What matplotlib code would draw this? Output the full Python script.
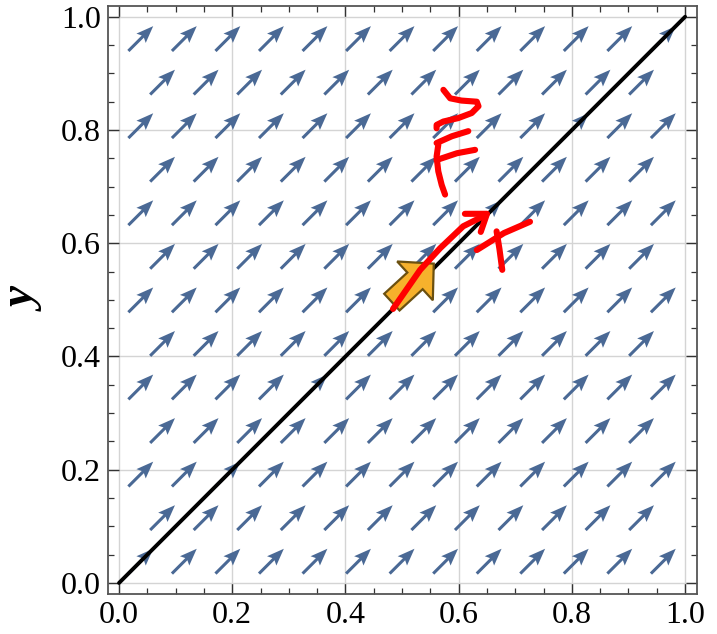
import numpy as np
import matplotlib.pyplot as plt
from matplotlib.patches import FancyArrow
from matplotlib.ticker import MultipleLocator

# vector field sample points: 13 rows, odd rows shifted by half a step
row_y = [1/26, 3/26, 5/26, 7/26, 9/26, 11/26, 13/26, 15/26, 17/26, 19/26, 21/26, 23/26, 25/26]
even_row_x = [1/26, 3/26, 5/26, 7/26, 9/26, 11/26, 13/26, 15/26, 17/26, 19/26, 21/26, 23/26, 25/26]
odd_row_x = [2/26, 4/26, 6/26, 8/26, 10/26, 12/26, 14/26, 16/26, 18/26, 20/26, 22/26, 24/26]
field_u = 1.0
field_v = 1.0

# diagonal line y = x
line_x = [0.0, 1.0]
line_y = [0.0, 1.0]

# orange highlight arrow (tail centre, direction)
big_tail = (0.482, 0.496)
big_delta = (0.074, 0.068)

# red hand-drawn strokes
stroke_main = [(0.484, 0.484), (0.532, 0.553), (0.567, 0.591), (0.608, 0.630), (0.648, 0.650)]
stroke_head = [(0.611, 0.652), (0.650, 0.652), (0.639, 0.620)]
stroke_t_bar = [(0.632, 0.588), (0.680, 0.618), (0.726, 0.638)]
stroke_t_stem = [(0.667, 0.621), (0.672, 0.590), (0.677, 0.553)]
stroke_z = [(0.573, 0.871), (0.585, 0.856), (0.605, 0.852), (0.632, 0.850), (0.635, 0.842),
            (0.623, 0.830), (0.599, 0.821), (0.573, 0.815), (0.561, 0.809), (0.561, 0.803)]
stroke_f_top = [(0.561, 0.777), (0.588, 0.789), (0.617, 0.798)]
stroke_f_stem = [(0.564, 0.774), (0.561, 0.753), (0.564, 0.727), (0.570, 0.703), (0.576, 0.686)]
stroke_f_mid = [(0.561, 0.747), (0.597, 0.759), (0.629, 0.765)]

plt.rcParams['font.family'] = ['Liberation Serif', 'DejaVu Serif']

fig = plt.figure(figsize=(7.17, 6.34), dpi=100)
ax = fig.add_axes([0.1506, 0.0631, 0.8215, 0.9274])

px, py = [], []
for k, gy in enumerate(row_y):
    xs = even_row_x if k % 2 == 0 else odd_row_x
    for gx in xs:
        px.append(gx)
        py.append(gy)
px = np.array(px)
py = np.array(py)
L = 0.062 / np.hypot(field_u, field_v)
ax.quiver(px, py, np.full_like(px, field_u * L), np.full_like(py, field_v * L),
          angles='xy', scale_units='xy', scale=1, pivot='middle',
          color='#4a6995', width=0.0052, headwidth=4.3, headlength=5.6,
          headaxislength=4.8, zorder=2)

ax.plot(line_x, line_y, color='black', lw=2.8, solid_capstyle='round', zorder=3)

ax.add_patch(FancyArrow(big_tail[0], big_tail[1], big_delta[0], big_delta[1],
                        width=0.040, head_width=0.093, head_length=0.045,
                        length_includes_head=True, facecolor='#f6b12c',
                        edgecolor='#6b5010', lw=1.6, zorder=4))

for s in [stroke_main, stroke_head, stroke_t_bar, stroke_t_stem,
          stroke_z, stroke_f_top, stroke_f_stem, stroke_f_mid]:
    xs, ys = zip(*s)
    ax.plot(xs, ys, color='#ff0000', lw=4.4, solid_capstyle='round',
            solid_joinstyle='round', zorder=5)

ax.set_xlim(-0.0195, 1.021)
ax.set_ylim(-0.0195, 1.019)
ax.xaxis.set_major_locator(MultipleLocator(0.2))
ax.yaxis.set_major_locator(MultipleLocator(0.2))
ax.xaxis.set_minor_locator(MultipleLocator(0.05))
ax.yaxis.set_minor_locator(MultipleLocator(0.05))
ax.xaxis.set_major_formatter(lambda v, p: f"{v:.1f}")
ax.yaxis.set_major_formatter(lambda v, p: f"{v:.1f}")
ax.tick_params(which='both', direction='in', top=True, right=True,
               color='#333333', labelsize=23, labelcolor='black')
ax.tick_params(which='major', length=8, width=1.0, pad=5)
ax.tick_params(which='minor', length=4.5, width=0.9)
for sp in ax.spines.values():
    sp.set_color('#555555')
    sp.set_linewidth(1.3)
ax.grid(True, which='major', color='#d4d4d4', lw=1.0, zorder=0)
ax.set_axisbelow(True)

ax.set_ylabel('y', fontsize=34, fontweight='bold', fontstyle='italic', labelpad=10)

fig.savefig('out.png', dpi=100)
